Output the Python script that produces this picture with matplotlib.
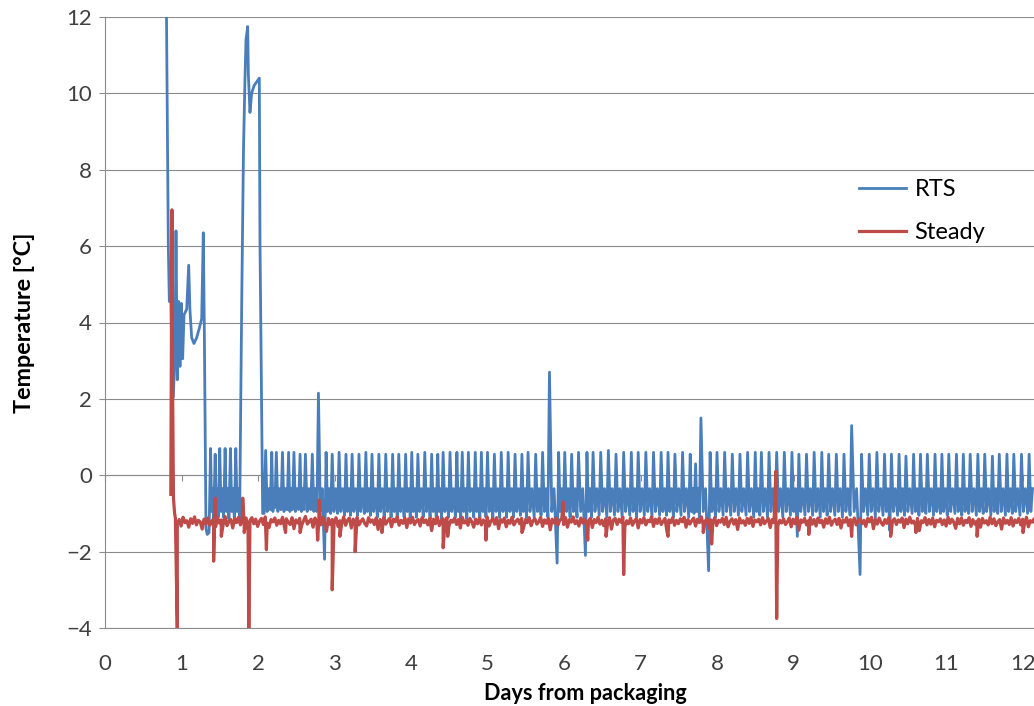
import numpy as np
import matplotlib.pyplot as plt

plt.rcParams['font.family'] = ['Lato', 'DejaVu Sans']

# ---- RTS (blue) : start-up transient, read point by point
rts_start_t = [0.800, 0.819, 0.828, 0.841, 0.854, 0.871, 0.893, 0.915, 0.928, 0.945,
               0.963, 0.980, 0.998, 1.015, 1.033, 1.068, 1.094, 1.110, 1.133, 1.163,
               1.198, 1.233, 1.264, 1.285, 1.298, 1.320, 1.337]
rts_start_v = [13.0, 8.2, 5.95, 4.55, 5.6, 3.3, 2.05, 3.2, 6.4, 2.5,
               4.55, 2.85, 4.5, 3.05, 4.2, 4.35, 5.5, 4.35, 3.6, 3.45,
               3.6, 3.85, 4.1, 6.35, 3.9, -1.4, -1.55]

# second warm excursion around day 2
rts_hump_t = [1.760, 1.787, 1.810, 1.830, 1.843, 1.865, 1.874, 1.895, 1.917, 1.948,
              1.983, 2.017, 2.026, 2.061]
rts_hump_v = [-1.15, 4.5, 8.5, 10.4, 11.4, 11.75, 10.5, 9.5, 10.0, 10.2,
              10.3, 10.4, 6.1, -1.0]

# compressor cycles between the two excursions
cyc_a_peak_t = [1.38, 1.44, 1.50, 1.57, 1.64, 1.71]
cyc_a_peak_v = [0.7, 0.55, 0.7, 0.7, 0.7, 0.7]
cyc_a_trough_v = [-1.5, -1.2, -1.1, -1.1, -1.15, -1.1]

# compressor cycles after day 2.1 (peak time, peak value, trough before the peak)
cyc_b_peak_t = [2.10, 2.18, 2.24, 2.32, 2.40, 2.47, 2.55, 2.62, 2.71, 2.79,
                2.89, 2.97, 3.06, 3.15, 3.23, 3.32, 3.41, 3.49, 3.58, 3.67,
                3.76, 3.84, 3.93, 4.01, 4.09, 4.18, 4.27, 4.35, 4.42, 4.51,
                4.60, 4.67, 4.75, 4.84, 4.92, 5.00, 5.09, 5.18, 5.27, 5.36,
                5.45, 5.53, 5.63, 5.72, 5.81, 5.93, 6.01, 6.10, 6.19, 6.30,
                6.38, 6.48, 6.58, 6.68, 6.78, 6.88, 6.97, 7.07, 7.17, 7.27,
                7.36, 7.45, 7.55, 7.65, 7.72, 7.79, 7.91, 8.00, 8.10, 8.20,
                8.30, 8.40, 8.50, 8.58, 8.68, 8.78, 8.88, 8.98, 9.07, 9.17,
                9.27, 9.37, 9.46, 9.56, 9.66, 9.76, 9.89, 9.99, 10.09, 10.19,
                10.28, 10.38, 10.47, 10.57, 10.66, 10.75, 10.85, 10.94, 11.03, 11.13,
                11.22, 11.31, 11.41, 11.50, 11.60, 11.69, 11.79, 11.88, 11.98, 12.08]
cyc_b_peak_v = [0.65, 0.6, 0.6, 0.6, 0.6, 0.6, 0.55, 0.55, 0.55, 2.15,
                0.6, 0.55, 0.6, 0.55, 0.55, 0.55, 0.6, 0.55, 0.55, 0.55,
                0.55, 0.55, 0.55, 0.6, 0.55, 0.6, 0.55, 0.55, 0.6, 0.6,
                0.6, 0.6, 0.6, 0.6, 0.6, 0.6, 0.55, 0.6, 0.6, 0.55,
                0.55, 0.6, 0.55, 0.6, 2.7, 0.6, 0.6, 0.55, 0.6, 0.6,
                0.6, 0.6, 0.65, 0.55, 0.6, 0.6, 0.6, 0.6, 0.6, 0.6,
                0.6, 0.55, 0.6, 0.55, 0.3, 1.5, 0.6, 0.6, 0.6, 0.55,
                0.55, 0.6, 0.6, 0.6, 0.6, 0.6, 0.6, 0.6, 0.55, 0.55,
                0.6, 0.6, 0.55, 0.55, 0.55, 1.3, 0.55, 0.55, 0.6, 0.55,
                0.55, 0.55, 0.5, 0.55, 0.55, 0.55, 0.55, 0.55, 0.55, 0.55,
                0.55, 0.55, 0.55, 0.55, 0.5, 0.55, 0.55, 0.55, 0.55, 0.55]
cyc_b_trough_v = [-1.0, -0.9, -0.85, -0.9, -0.9, -0.9, -0.9, -0.9, -0.9, -0.95,
                  -2.2, -1.0, -1.0, -1.05, -1.05, -1.05, -1.0, -1.05, -1.1, -1.1,
                  -1.1, -1.1, -1.1, -1.1, -1.1, -1.1, -1.15, -1.1, -1.15, -1.1,
                  -1.1, -1.15, -1.15, -1.1, -1.15, -1.1, -1.15, -1.1, -1.1, -1.1,
                  -1.05, -1.1, -1.1, -1.05, -1.1, -2.3, -1.05, -1.1, -1.1, -2.1,
                  -1.1, -1.05, -1.1, -1.05, -1.1, -1.05, -1.1, -1.05, -1.1, -1.05,
                  -1.05, -1.1, -1.05, -1.1, -1.0, -1.1, -2.5, -1.1, -1.05, -1.05,
                  -1.05, -1.05, -1.1, -1.05, -1.1, -1.05, -1.1, -1.05, -1.6, -1.05,
                  -1.05, -1.1, -1.05, -1.05, -1.1, -1.05, -2.6, -1.05, -1.1, -1.05,
                  -1.45, -1.05, -1.05, -1.0, -1.05, -1.0, -1.05, -1.0, -1.05, -1.0,
                  -1.05, -1.0, -1.05, -1.0, -1.05, -1.0, -1.05, -1.0, -1.05, -1.0]
rts_dip = -0.95    # low point just after each peak
rts_bump = -0.35   # small secondary hump inside a cycle

# ---- Steady (red): base record, one reading every 0.025 day from day 0.92
steady_t0 = 0.92
steady_dt = 0.025
steady_base = [
    -1.12, -1.28, -1.16, -1.33, -1.10, -1.24, -1.19, -1.36, -1.14, -1.26,
    -1.09, -1.30, -1.18, -1.22, -1.41, -1.15, -1.27, -1.12, -1.31, -1.20,
    -1.14, -1.35, -1.11, -1.25, -1.17, -1.29, -1.08, -1.32, -1.21, -1.16,
    -1.38, -1.13, -1.24, -1.10, -1.30, -1.19, -1.26, -1.12, -1.44, -1.18,
    -1.11, -1.27, -1.15, -1.34, -1.20, -1.13, -1.29, -1.09, -1.25, -1.37,
    -1.16, -1.22, -1.12, -1.31, -1.18, -1.27, -1.10, -1.35, -1.14, -1.23,
    -1.29, -1.11, -1.40, -1.17, -1.25, -1.13, -1.32, -1.19, -1.08, -1.28,
    -1.21, -1.15, -1.36, -1.12, -1.26, -1.18, -1.30, -1.10, -1.24, -1.47,
    -1.13, -1.29, -1.16, -1.22, -1.11, -1.34, -1.19, -1.27, -1.09, -1.31,
    -1.18, -1.12, -1.38, -1.15, -1.25, -1.10, -1.30, -1.21, -1.14, -1.26,
    -1.33, -1.11, -1.23, -1.17, -1.29, -1.12, -1.42, -1.16, -1.24, -1.10,
    -1.28, -1.19, -1.13, -1.35, -1.15, -1.22, -1.09, -1.31, -1.18, -1.26,
    -1.12, -1.37, -1.14, -1.25, -1.10, -1.29, -1.20, -1.16, -1.33, -1.11,
    -1.24, -1.17, -1.30, -1.13, -1.45, -1.15, -1.27, -1.09, -1.32, -1.19,
    -1.14, -1.26, -1.11, -1.34, -1.18, -1.23, -1.12, -1.29, -1.16, -1.38,
    -1.10, -1.25, -1.19, -1.31, -1.13, -1.22, -1.36, -1.15, -1.27, -1.12,
    -1.30, -1.17, -1.24, -1.09, -1.33, -1.20, -1.14, -1.28, -1.11, -1.40,
    -1.16, -1.23, -1.12, -1.35, -1.18, -1.26, -1.10, -1.30, -1.21, -1.15,
    -1.27, -1.13, -1.39, -1.16, -1.24, -1.11, -1.32, -1.19, -1.14, -1.28,
    -1.22, -1.10, -1.34, -1.17, -1.26, -1.13, -1.43, -1.15, -1.25, -1.12,
    -1.31, -1.18, -1.14, -1.29, -1.11, -1.36, -1.16, -1.23, -1.09, -1.27,
    -1.19, -1.33, -1.12, -1.25, -1.15, -1.30, -1.20, -1.13, -1.37, -1.16,
    -1.24, -1.10, -1.28, -1.18, -1.32, -1.14, -1.26, -1.11, -1.41, -1.17,
    -1.13, -1.29, -1.15, -1.23, -1.10, -1.35, -1.19, -1.27, -1.12, -1.31,
    -1.20, -1.14, -1.38, -1.16, -1.25, -1.11, -1.30, -1.18, -1.22, -1.09,
    -1.34, -1.15, -1.26, -1.12, -1.29, -1.21, -1.13, -1.46, -1.17, -1.24,
    -1.11, -1.31, -1.18, -1.27, -1.14, -1.22, -1.10, -1.36, -1.16, -1.28,
    -1.19, -1.12, -1.33, -1.15, -1.24, -1.09, -1.30, -1.20, -1.14, -1.39,
    -1.17, -1.26, -1.11, -1.32, -1.18, -1.23, -1.13, -1.29, -1.10, -1.35,
    -1.21, -1.14, -1.28, -1.16, -1.42, -1.12, -1.25, -1.19, -1.31, -1.13,
    -1.26, -1.10, -1.34, -1.17, -1.22, -1.15, -1.30, -1.11, -1.27, -1.20,
    -1.13, -1.37, -1.16, -1.24, -1.09, -1.32, -1.18, -1.25, -1.14, -1.29,
    -1.22, -1.12, -1.35, -1.15, -1.27, -1.10, -1.44, -1.17, -1.23, -1.13,
    -1.30, -1.19, -1.11, -1.28, -1.16, -1.33, -1.12, -1.24, -1.18, -1.36,
    -1.14, -1.26, -1.10, -1.31, -1.20, -1.15, -1.29, -1.13, -1.38, -1.17,
    -1.23, -1.11, -1.32, -1.16, -1.25, -1.12, -1.30, -1.19, -1.14, -1.27,
    -1.18, -1.34, -1.13, -1.22, -1.10, -1.40, -1.15, -1.28, -1.12, -1.24,
    -1.31, -1.16, -1.26, -1.11, -1.33, -1.19, -1.14, -1.29, -1.17, -1.23,
    -1.12, -1.37, -1.15, -1.27, -1.10, -1.25, -1.20, -1.32, -1.13, -1.45,
    -1.19, -1.24, -1.11, -1.30, -1.16, -1.28, -1.12, -1.35, -1.18, -1.22,
    -1.14, -1.29, -1.17, -1.33, -1.10, -1.26, -1.15, -1.23, -1.39, -1.13,
    -1.27, -1.12, -1.31, -1.18, -1.24, -1.11, -1.34, -1.16, -1.28, -1.20,
    -1.15, -1.36, -1.13, -1.25, -1.19, -1.30, -1.10, -1.27, -1.14, -1.32,
    -1.22, -1.16, -1.41, -1.12, -1.26, -1.18, -1.29, -1.11, -1.33, -1.17,
    -1.24, -1.13, -1.30, -1.15, -1.27, -1.10, -1.35, -1.19, -1.23, -1.14,
    -1.31, -1.18, -1.25, -1.12, -1.38, -1.16, -1.28, -1.11, -1.26, -1.20,
]
# isolated excursions of the Steady probe
steady_spike_t = [0.860, 0.875, 0.885, 0.895, 0.910, 0.945, 1.42, 1.44, 1.52, 1.80,
                  1.82, 1.88, 2.11, 2.36, 2.55, 2.78, 2.80, 2.97, 3.07, 3.27,
                  3.62, 4.42, 4.48, 4.98, 5.45, 5.99, 6.31, 6.55, 6.78, 7.36,
                  7.82, 7.93, 8.77, 8.78, 9.20, 9.76, 10.27, 10.60, 11.40, 12.00]
steady_spike_v = [-0.5, 6.95, 2.0, -0.6, -1.0, -4.05, -2.25, -0.6, -1.6, -0.6,
                  -1.5, -4.05, -1.95, -1.5, -1.5, -1.7, -0.65, -3.0, -1.6, -2.0,
                  -1.5, -1.9, -1.6, -1.7, -1.5, -0.7, -1.7, -1.6, -2.6, -1.6,
                  -1.5, -1.8, 0.1, -3.75, -1.55, -1.6, -1.6, -1.5, -1.6, -1.5]

x_ticks = list(range(0, 13))
y_ticks = [-4, -2, 0, 2, 4, 6, 8, 10, 12]

BLUE = '#4a7ebb'
RED = '#be4b48'
GRID = '#8c8c8c'
TXT = '#404040'


def cycles(peak_t, peak_v, trough_v, last_period):
    t, v = [], []
    for i, tp in enumerate(peak_t):
        p = peak_t[i + 1] - tp if i + 1 < len(peak_t) else last_period
        t += [tp - 0.02, tp, tp + 0.25 * p, tp + 0.5 * p]
        v += [trough_v[i], peak_v[i], rts_dip, rts_bump]
    return t, v


ta, va = cycles(cyc_a_peak_t, cyc_a_peak_v, cyc_a_trough_v, 0.07)
tb, vb = cycles(cyc_b_peak_t, cyc_b_peak_v, cyc_b_trough_v, 0.09)
rts_t = np.array(rts_start_t + ta + rts_hump_t + tb)
rts_v = np.array(rts_start_v + va + rts_hump_v + vb)
order = np.argsort(rts_t, kind='stable')
rts_t, rts_v = rts_t[order], rts_v[order]

base_t = steady_t0 + steady_dt * np.arange(len(steady_base))
st_t = np.concatenate([base_t, steady_spike_t])
st_v = np.concatenate([steady_base, steady_spike_v])
order = np.argsort(st_t, kind='stable')
st_t, st_v = st_t[order], st_v[order]

fig = plt.figure(figsize=(10.34, 7.06), dpi=100)
ax = fig.add_axes([105 / 1034, 1 - 628 / 706, 929 / 1034, 611 / 706])

ax.plot(rts_t, rts_v, color=BLUE, lw=2.0, label='RTS', zorder=3)
ax.plot(st_t, st_v, color=RED, lw=2.3, label='Steady', zorder=4)

ax.set_xlim(0, 929 / 76.5)
ax.set_ylim(-4, 12)
ax.set_xticks(x_ticks)
ax.set_yticks(y_ticks)
ax.grid(axis='y', color=GRID, lw=0.8)
ax.set_axisbelow(True)
for s in ['top', 'right']:
    ax.spines[s].set_visible(False)
ax.spines['left'].set_color(GRID)
ax.spines['bottom'].set_color(GRID)
ax.tick_params(axis='x', length=0, pad=19, labelsize=16, labelcolor=TXT)
ax.tick_params(axis='y', length=4.3, width=0.8, color=GRID, pad=5, labelsize=16, labelcolor=TXT)

# category axis crossing at 0 degrees
sec = ax.secondary_xaxis(0.25)
sec.set_xticks(x_ticks)
sec.tick_params(axis='x', direction='out', length=4.3, width=0.8, color=GRID,
                labelbottom=False, labeltop=False)
for s in sec.spines.values():
    s.set_color(GRID)
    s.set_linewidth(0.8)

# Excel centres the title on a plot area that runs past the crop on the right
ax.set_xlabel('Days from packaging', fontsize=15.6, fontweight='bold', color='black')
ax.xaxis.set_label_coords(0.517, -0.09)
ax.xaxis.label.set_va('top')
ax.set_ylabel('Temperature [°C]', fontsize=16.8, fontweight='bold', color='black')
ax.yaxis.set_label_coords(-0.075, 0.5)

ax.legend(loc='upper left', bbox_to_anchor=(0.789, 0.77), frameon=False,
          fontsize=17, handlelength=2.0, labelspacing=0.95, handletextpad=0.35)

fig.savefig('out.png', dpi=100)
